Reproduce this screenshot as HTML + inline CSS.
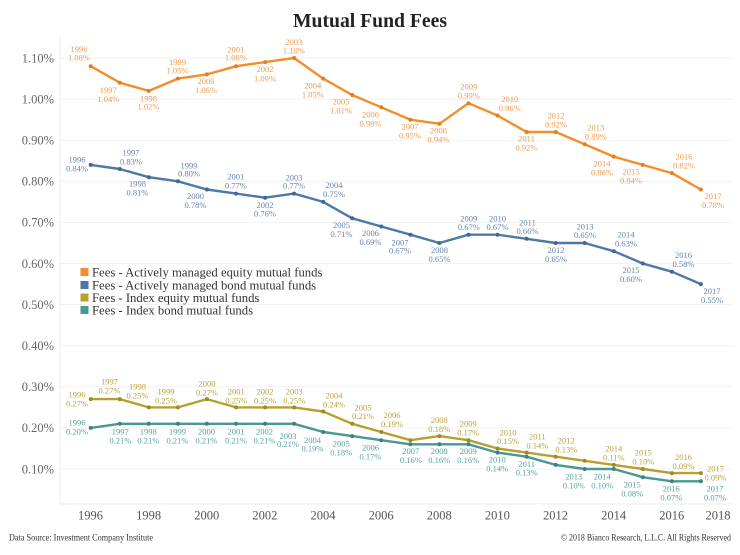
<!DOCTYPE html>
<html><head><meta charset="utf-8"><style>
html,body{margin:0;padding:0;background:#fff;}
svg{display:block;font-family:"Liberation Serif",serif;}
.yl{font-size:12.5px;fill:#666;text-anchor:end;}
.xl{font-size:12.5px;fill:#555;text-anchor:middle;}
.o text,.b text,.g text,.t text{font-size:8.5px;text-anchor:middle;}
.o text{fill:#EE9A4E;}
.b text{fill:#6684AA;}
.g text{fill:#B9A23E;}
.t text{fill:#55A29E;}
.lg{font-size:12.7px;fill:#333;}
</style></head><body>
<svg width="740" height="555" viewBox="0 0 740 555" xmlns="http://www.w3.org/2000/svg">
<rect width="740" height="555" fill="#fff"/>
<text x="370" y="27" text-anchor="middle" font-size="19.5" font-weight="bold" fill="#222" textLength="154" lengthAdjust="spacingAndGlyphs">Mutual Fund Fees</text>
<!-- plot border -->
<line x1="60" y1="36" x2="60" y2="504" stroke="#ececec" stroke-width="1"/>
<line x1="60" y1="504" x2="733" y2="504" stroke="#ececec" stroke-width="1"/>
<!-- gridlines -->
<g stroke="#f1f1f1" stroke-width="1">
<line x1="60" y1="58" x2="733" y2="58"/>
<line x1="60" y1="99.1" x2="733" y2="99.1"/>
<line x1="60" y1="140.2" x2="733" y2="140.2"/>
<line x1="60" y1="181.3" x2="733" y2="181.3"/>
<line x1="60" y1="222.4" x2="733" y2="222.4"/>
<line x1="60" y1="263.5" x2="733" y2="263.5"/>
<line x1="60" y1="304.6" x2="733" y2="304.6"/>
<line x1="60" y1="345.7" x2="733" y2="345.7"/>
<line x1="60" y1="386.8" x2="733" y2="386.8"/>
<line x1="60" y1="427.9" x2="733" y2="427.9"/>
<line x1="60" y1="469" x2="733" y2="469"/>
</g>
<!-- y labels -->
<text class="yl" x="54" y="62.3">1.10%</text>
<text class="yl" x="54" y="103.4">1.00%</text>
<text class="yl" x="54" y="144.5">0.90%</text>
<text class="yl" x="54" y="185.6">0.80%</text>
<text class="yl" x="54" y="226.7">0.70%</text>
<text class="yl" x="54" y="267.8">0.60%</text>
<text class="yl" x="54" y="308.9">0.50%</text>
<text class="yl" x="54" y="350">0.40%</text>
<text class="yl" x="54" y="391.1">0.30%</text>
<text class="yl" x="54" y="432.2">0.20%</text>
<text class="yl" x="54" y="473.3">0.10%</text>
<!-- x labels -->
<text class="xl" x="90.5" y="519.5">1996</text>
<text class="xl" x="148.6" y="519.5">1998</text>
<text class="xl" x="206.7" y="519.5">2000</text>
<text class="xl" x="264.9" y="519.5">2002</text>
<text class="xl" x="323" y="519.5">2004</text>
<text class="xl" x="381.1" y="519.5">2006</text>
<text class="xl" x="439.2" y="519.5">2008</text>
<text class="xl" x="497.4" y="519.5">2010</text>
<text class="xl" x="555.5" y="519.5">2012</text>
<text class="xl" x="613.6" y="519.5">2014</text>
<text class="xl" x="671.7" y="519.5">2016</text>
<text class="xl" x="718" y="519.5">2018</text>

<!-- series lines -->
<g fill="none" stroke-width="2.4" stroke-linejoin="round" stroke-linecap="round">
<polyline stroke="#F28E2B" points="90.7,66.2 119.8,82.7 148.8,90.9 177.9,78.6 206.9,74.4 236,66.2 265.1,62.1 294.1,58 323.2,78.6 352.2,95 381.3,107.3 410.4,119.7 439.4,123.8 468.5,103.2 497.5,115.5 526.6,132 555.7,132 584.7,144.3 613.8,156.6 642.8,164.9 671.9,173.1 700.9,189.5"/>
<polyline stroke="#4E79A7" points="90.7,164.9 119.8,169 148.8,177.2 177.9,181.3 206.9,189.5 236,193.6 265.1,197.7 294.1,193.6 323.2,201.9 352.2,218.3 381.3,226.5 410.4,234.7 439.4,243 468.5,234.7 497.5,234.7 526.6,238.8 555.7,243 584.7,243 613.8,251.2 642.8,263.5 671.9,271.7 700.9,284.1"/>
<polyline stroke="#B7A02F" points="90.7,399.1 119.8,399.1 148.8,407.4 177.9,407.4 206.9,399.1 236,407.4 265.1,407.4 294.1,407.4 323.2,411.5 352.2,423.8 381.3,432 410.4,440.2 439.4,436.1 468.5,440.2 497.5,448.5 526.6,452.6 555.7,456.7 584.7,460.8 613.8,464.9 642.8,469 671.9,473.1 700.9,473.1"/>
<polyline stroke="#499894" points="90.7,427.9 119.8,423.8 148.8,423.8 177.9,423.8 206.9,423.8 236,423.8 265.1,423.8 294.1,423.8 323.2,432 352.2,436.1 381.3,440.2 410.4,444.3 439.4,444.3 468.5,444.3 497.5,452.6 526.6,456.7 555.7,464.9 584.7,469 613.8,469 642.8,477.2 671.9,481.3 700.9,481.3"/>
</g>
<!-- markers -->
<g fill="#E07E22">
<circle cx="90.7" cy="66.2" r="2"/><circle cx="119.8" cy="82.7" r="2"/><circle cx="148.8" cy="90.9" r="2"/><circle cx="177.9" cy="78.6" r="2"/><circle cx="206.9" cy="74.4" r="2"/><circle cx="236" cy="66.2" r="2"/><circle cx="265.1" cy="62.1" r="2"/><circle cx="294.1" cy="58" r="2"/><circle cx="323.2" cy="78.6" r="2"/><circle cx="352.2" cy="95" r="2"/><circle cx="381.3" cy="107.3" r="2"/><circle cx="410.4" cy="119.7" r="2"/><circle cx="439.4" cy="123.8" r="2"/><circle cx="468.5" cy="103.2" r="2"/><circle cx="497.5" cy="115.5" r="2"/><circle cx="526.6" cy="132" r="2"/><circle cx="555.7" cy="132" r="2"/><circle cx="584.7" cy="144.3" r="2"/><circle cx="613.8" cy="156.6" r="2"/><circle cx="642.8" cy="164.9" r="2"/><circle cx="671.9" cy="173.1" r="2"/><circle cx="700.9" cy="189.5" r="2"/>
</g>
<g fill="#3F6895">
<circle cx="90.7" cy="164.9" r="2"/><circle cx="119.8" cy="169" r="2"/><circle cx="148.8" cy="177.2" r="2"/><circle cx="177.9" cy="181.3" r="2"/><circle cx="206.9" cy="189.5" r="2"/><circle cx="236" cy="193.6" r="2"/><circle cx="265.1" cy="197.7" r="2"/><circle cx="294.1" cy="193.6" r="2"/><circle cx="323.2" cy="201.9" r="2"/><circle cx="352.2" cy="218.3" r="2"/><circle cx="381.3" cy="226.5" r="2"/><circle cx="410.4" cy="234.7" r="2"/><circle cx="439.4" cy="243" r="2"/><circle cx="468.5" cy="234.7" r="2"/><circle cx="497.5" cy="234.7" r="2"/><circle cx="526.6" cy="238.8" r="2"/><circle cx="555.7" cy="243" r="2"/><circle cx="584.7" cy="243" r="2"/><circle cx="613.8" cy="251.2" r="2"/><circle cx="642.8" cy="263.5" r="2"/><circle cx="671.9" cy="271.7" r="2"/><circle cx="700.9" cy="284.1" r="2"/>
</g>
<g fill="#9E8A25">
<circle cx="90.7" cy="399.1" r="2"/><circle cx="119.8" cy="399.1" r="2"/><circle cx="148.8" cy="407.4" r="2"/><circle cx="177.9" cy="407.4" r="2"/><circle cx="206.9" cy="399.1" r="2"/><circle cx="236" cy="407.4" r="2"/><circle cx="265.1" cy="407.4" r="2"/><circle cx="294.1" cy="407.4" r="2"/><circle cx="323.2" cy="411.5" r="2"/><circle cx="352.2" cy="423.8" r="2"/><circle cx="381.3" cy="432" r="2"/><circle cx="410.4" cy="440.2" r="2"/><circle cx="439.4" cy="436.1" r="2"/><circle cx="468.5" cy="440.2" r="2"/><circle cx="497.5" cy="448.5" r="2"/><circle cx="526.6" cy="452.6" r="2"/><circle cx="555.7" cy="456.7" r="2"/><circle cx="584.7" cy="460.8" r="2"/><circle cx="613.8" cy="464.9" r="2"/><circle cx="642.8" cy="469" r="2"/><circle cx="671.9" cy="473.1" r="2"/><circle cx="700.9" cy="473.1" r="2"/>
</g>
<g fill="#3A837F">
<circle cx="90.7" cy="427.9" r="2"/><circle cx="119.8" cy="423.8" r="2"/><circle cx="148.8" cy="423.8" r="2"/><circle cx="177.9" cy="423.8" r="2"/><circle cx="206.9" cy="423.8" r="2"/><circle cx="236" cy="423.8" r="2"/><circle cx="265.1" cy="423.8" r="2"/><circle cx="294.1" cy="423.8" r="2"/><circle cx="323.2" cy="432" r="2"/><circle cx="352.2" cy="436.1" r="2"/><circle cx="381.3" cy="440.2" r="2"/><circle cx="410.4" cy="444.3" r="2"/><circle cx="439.4" cy="444.3" r="2"/><circle cx="468.5" cy="444.3" r="2"/><circle cx="497.5" cy="452.6" r="2"/><circle cx="526.6" cy="456.7" r="2"/><circle cx="555.7" cy="464.9" r="2"/><circle cx="584.7" cy="469" r="2"/><circle cx="613.8" cy="469" r="2"/><circle cx="642.8" cy="477.2" r="2"/><circle cx="671.9" cy="481.3" r="2"/><circle cx="700.9" cy="481.3" r="2"/>
</g>

<!-- orange labels -->
<g class="o">
<text x="79" y="52">1996</text><text x="79" y="60.5">1.08%</text>
<text x="108.3" y="93">1997</text><text x="108.3" y="102">1.04%</text>
<text x="148.5" y="101.3">1998</text><text x="148.5" y="109.7">1.02%</text>
<text x="177.5" y="65">1999</text><text x="177.5" y="73.7">1.05%</text>
<text x="206" y="84">2000</text><text x="206" y="93">1.06%</text>
<text x="235.8" y="52.3">2001</text><text x="235.8" y="60.3">1.08%</text>
<text x="265" y="72">2002</text><text x="265" y="81.3">1.09%</text>
<text x="293.8" y="45">2003</text><text x="293.8" y="53.7">1.10%</text>
<text x="312.8" y="88.3">2004</text><text x="312.8" y="97.3">1.05%</text>
<text x="341" y="104.7">2005</text><text x="341" y="113.3">1.01%</text>
<text x="370.5" y="117.3">2006</text><text x="370.5" y="126.3">0.98%</text>
<text x="410" y="129.7">2007</text><text x="410" y="138.7">0.95%</text>
<text x="438.5" y="133.7">2008</text><text x="438.5" y="142.3">0.94%</text>
<text x="468.8" y="89.7">2009</text><text x="468.8" y="98.7">0.99%</text>
<text x="509.7" y="102">2010</text><text x="509.7" y="111">0.96%</text>
<text x="526.5" y="141.3">2011</text><text x="526.5" y="150.3">0.92%</text>
<text x="556" y="118.7">2012</text><text x="556" y="127.3">0.92%</text>
<text x="595.8" y="130.7">2013</text><text x="595.8" y="139.7">0.89%</text>
<text x="602" y="166.7">2014</text><text x="602" y="175.7">0.86%</text>
<text x="631" y="174.7">2015</text><text x="631" y="183.7">0.84%</text>
<text x="684" y="159.3">2016</text><text x="684" y="168.3">0.82%</text>
<text x="713" y="199">2017</text><text x="713" y="208">0.78%</text>
</g>
<!-- blue labels -->
<g class="b">
<text x="77" y="162.3">1996</text><text x="77" y="171.3">0.84%</text>
<text x="131" y="155.7">1997</text><text x="131" y="164.3">0.83%</text>
<text x="137.5" y="186.3">1998</text><text x="137.5" y="195.3">0.81%</text>
<text x="189" y="168.3">1999</text><text x="189" y="176.3">0.80%</text>
<text x="195.5" y="199">2000</text><text x="195.5" y="208">0.78%</text>
<text x="235.8" y="179.7">2001</text><text x="235.8" y="188.7">0.77%</text>
<text x="265" y="208">2002</text><text x="265" y="216.3">0.76%</text>
<text x="294" y="180.7">2003</text><text x="294" y="188.7">0.77%</text>
<text x="334" y="188">2004</text><text x="334" y="197">0.75%</text>
<text x="341.5" y="228">2005</text><text x="341.5" y="237">0.71%</text>
<text x="370.5" y="236">2006</text><text x="370.5" y="245">0.69%</text>
<text x="400" y="245.3">2007</text><text x="400" y="253.7">0.67%</text>
<text x="439.5" y="253">2008</text><text x="439.5" y="262">0.65%</text>
<text x="468.8" y="221.3">2009</text><text x="468.8" y="230">0.67%</text>
<text x="497.5" y="221.3">2010</text><text x="497.5" y="230">0.67%</text>
<text x="527.5" y="225.3">2011</text><text x="527.5" y="234">0.66%</text>
<text x="556" y="253">2012</text><text x="556" y="262">0.65%</text>
<text x="585" y="229.7">2013</text><text x="585" y="238">0.65%</text>
<text x="626" y="237.3">2014</text><text x="626" y="246.3">0.63%</text>
<text x="631" y="273">2015</text><text x="631" y="282">0.60%</text>
<text x="683.5" y="258">2016</text><text x="683.5" y="267">0.58%</text>
<text x="712" y="294">2017</text><text x="712" y="303">0.55%</text>
</g>
<!-- gold labels -->
<g class="g">
<text x="77" y="397.3">1996</text><text x="77" y="406.3">0.27%</text>
<text x="109.5" y="384.7">1997</text><text x="109.5" y="393.7">0.27%</text>
<text x="137.5" y="389.7">1998</text><text x="137.5" y="398.7">0.25%</text>
<text x="166" y="394.7">1999</text><text x="166" y="403.3">0.25%</text>
<text x="207" y="386.3">2000</text><text x="207" y="395.3">0.27%</text>
<text x="236.3" y="394.7">2001</text><text x="236.3" y="403.3">0.25%</text>
<text x="265" y="394.7">2002</text><text x="265" y="403.3">0.25%</text>
<text x="294.2" y="394.7">2003</text><text x="294.2" y="403.3">0.25%</text>
<text x="334" y="398.7">2004</text><text x="334" y="407.3">0.24%</text>
<text x="363" y="410.7">2005</text><text x="363" y="419">0.21%</text>
<text x="392" y="418">2006</text><text x="392" y="427">0.19%</text>
<text x="439.2" y="423">2008</text><text x="439.2" y="432">0.18%</text>
<text x="468.2" y="426.7">2009</text><text x="468.2" y="435.3">0.17%</text>
<text x="508" y="435.3">2010</text><text x="508" y="444">0.15%</text>
<text x="537.3" y="439.3">2011</text><text x="537.3" y="448.3">0.14%</text>
<text x="566.3" y="443.7">2012</text><text x="566.3" y="452.3">0.13%</text>
<text x="613.8" y="451.7">2014</text><text x="613.8" y="460.3">0.11%</text>
<text x="643.3" y="455.7">2015</text><text x="643.3" y="464.3">0.10%</text>
<text x="683.5" y="460">2016</text><text x="683.5" y="469">0.09%</text>
<text x="715.5" y="471.7">2017</text><text x="715.5" y="480.7">0.09%</text>
</g>
<!-- teal labels -->
<g class="t">
<text x="77" y="425.3">1996</text><text x="77" y="434.7">0.20%</text>
<text x="120.3" y="434.7">1997</text><text x="120.3" y="443.7">0.21%</text>
<text x="148.3" y="434.7">1998</text><text x="148.3" y="443.7">0.21%</text>
<text x="177.5" y="434.7">1999</text><text x="177.5" y="443.7">0.21%</text>
<text x="206.5" y="434.7">2000</text><text x="206.5" y="443.7">0.21%</text>
<text x="236" y="434.7">2001</text><text x="236" y="443.7">0.21%</text>
<text x="264.5" y="434.7">2002</text><text x="264.5" y="443.7">0.21%</text>
<text x="288" y="439">2003</text><text x="288" y="447">0.21%</text>
<text x="312.5" y="443">2004</text><text x="312.5" y="451.3">0.19%</text>
<text x="341.2" y="446.3">2005</text><text x="341.2" y="455.3">0.18%</text>
<text x="370.5" y="450.3">2006</text><text x="370.5" y="459.7">0.17%</text>
<text x="410.8" y="454">2007</text><text x="410.8" y="463">0.16%</text>
<text x="439.2" y="454">2008</text><text x="439.2" y="463">0.16%</text>
<text x="468.2" y="454">2009</text><text x="468.2" y="463">0.16%</text>
<text x="497.2" y="462.3">2010</text><text x="497.2" y="471.3">0.14%</text>
<text x="526.7" y="467">2011</text><text x="526.7" y="475.7">0.13%</text>
<text x="573.8" y="479.7">2013</text><text x="573.8" y="488.7">0.10%</text>
<text x="602.2" y="479.7">2014</text><text x="602.2" y="488.7">0.10%</text>
<text x="632.2" y="487.3">2015</text><text x="632.2" y="496.3">0.08%</text>
<text x="671.3" y="491.3">2016</text><text x="671.3" y="500.3">0.07%</text>
<text x="715" y="491.3">2017</text><text x="715" y="500.3">0.07%</text>
</g>

<!-- legend -->
<rect x="80.5" y="268" width="8" height="8" fill="#F28E2B"/>
<rect x="80.5" y="281" width="8" height="8" fill="#4E79A7"/>
<rect x="80.5" y="293.5" width="8" height="8" fill="#B7A02F"/>
<rect x="80.5" y="306" width="8" height="8" fill="#499894"/>
<text class="lg" x="92" y="276.7">Fees - Actively managed equity mutual funds</text>
<text class="lg" x="92" y="289.4">Fees - Actively managed bond mutual funds</text>
<text class="lg" x="92" y="301.9">Fees - Index equity mutual funds</text>
<text class="lg" x="92" y="314.4">Fees - Index bond mutual funds</text>

<!-- footer -->
<text x="9" y="540.5" font-size="9" fill="#333" textLength="144" lengthAdjust="spacingAndGlyphs">Data Source: Investment Company Institute</text>
<text x="731" y="540.5" font-size="9" fill="#333" text-anchor="end" textLength="170" lengthAdjust="spacingAndGlyphs">© 2018 Bianco Research, L.L.C. All Rights Reserved</text>
</svg>
</body></html>
